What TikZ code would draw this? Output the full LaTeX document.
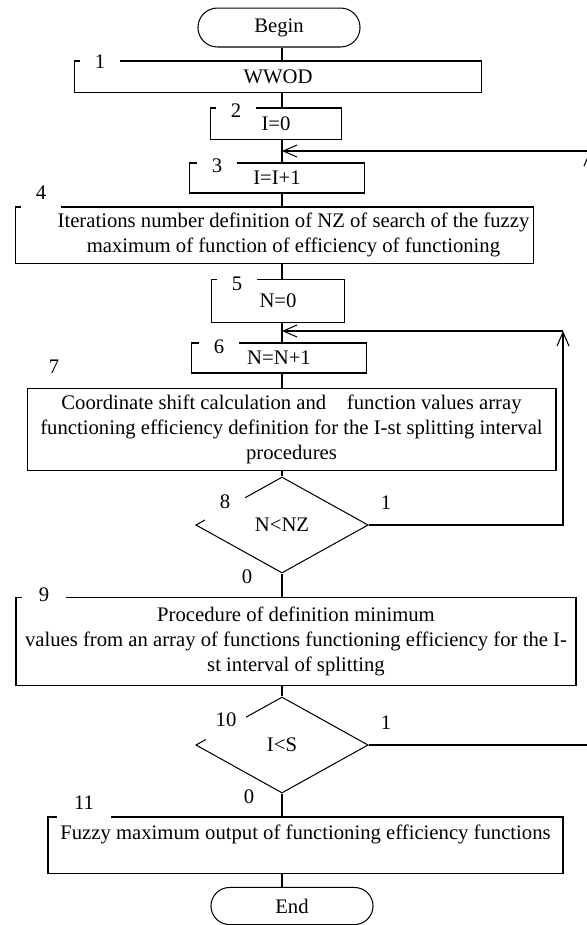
\documentclass[tikz,border=0pt,12pt]{standalone}
\usepackage{fontspec}
\setmainfont{Liberation Serif}
\usetikzlibrary{arrows.meta,shapes.geometric,shapes.misc}

\begin{document}
\begin{tikzpicture}[x=0.58pt,y=-0.58pt,semithick,
                    >={Straight Barb[length=8pt,width=7pt]},
  box/.style={draw,rectangle,inner sep=2pt,align=center},
  term/.style={draw,rounded rectangle,minimum width=102pt},
  cond/.style={draw,diamond,inner sep=0pt,minimum width=100pt,minimum height=55.7pt},
  num/.style={fill=white,inner sep=0pt,minimum width=23pt,minimum height=12pt},
  numtop/.style={fill=white,inner sep=0pt,minimum width=23pt,minimum height=23pt},
  txt/.style={align=center}]

  \path[use as bounding box,fill=white] (0,0) rectangle (587,925);
  \coordinate (axis) at (282,0);

  % terminals
  \node[term,minimum height=22.6pt] (beg) at (279,27.5) {Begin};
  \node[term,minimum height=21.5pt] (end) at (292,906) {End};

  % blocks
  \node[box,minimum width=236.6pt,minimum height=18pt]   (b1) at (278,76.5) {WWOD};
  \node[box,minimum width=76pt,minimum height=18pt]      (b2) at (276,123.5) {I=0};
  \node[box,minimum width=101.5pt,minimum height=17.4pt] (b3) at (277,178) {I=I+1};
  \node[box,minimum width=299.9pt,minimum height=32.5pt,
        label={[txt,xshift=11pt]center:{Iterations number definition of NZ of search of the fuzzy\\
               maximum of function of efficiency of functioning}}] (b4) at (274.5,235) {};
  \node[box,minimum width=76.6pt,minimum height=24.4pt]  (b5) at (278,301) {N=0};
  \node[box,minimum width=101.5pt,minimum height=17.4pt] (b6) at (279,358) {N=N+1};
  \node[box,minimum width=306.8pt,minimum height=48.1pt] (b7) at (291.5,429.5)
       {Coordinate shift calculation and~~~ function values array\\
        functioning efficiency definition for the I-st splitting interval\\
        procedures};
  \node[cond] (d8) at (282,525) {N<NZ};
  \node[box,minimum width=324.8pt,minimum height=50.5pt] (b9) at (296,641.5)
       {Procedure of definition minimum\\
        values from an array of functions functioning efficiency for the I-\\
        st interval of splitting};
  \node[cond] (d10) at (282,745) {I<S};
  \node[box,minimum width=298.7pt,minimum height=32.5pt] (b11) at (305.5,845)
       {Fuzzy maximum output of functioning efficiency functions\\ \mbox{}};

  % flow
  \draw (beg.south -| axis) -- (b1.north -| axis);
  \draw (b1.south -| axis) -- (b2.north -| axis);
  \draw (b2.south -| axis) -- (b3.north -| axis);
  \draw (b3.south -| axis) -- (b4.north -| axis);
  \draw (b4.south -| axis) -- (b5.north -| axis);
  \draw (b5.south -| axis) -- (b6.north -| axis);
  \draw (b6.south -| axis) -- (b7.north -| axis);
  \draw (b7.south -| axis) -- (d8.north);
  \draw (d8.south) -- (b9.north -| axis);
  \draw (b9.south -| axis) -- (d10.north);
  \draw (d10.south) -- (b11.north -| axis);
  \draw (b11.south -| axis) -- (end.north -| axis);

  % loops
  \coordinate (c8) at (563,331);
  \coordinate (c10) at (590,151);
  \draw[->] (d8.east) -| (c8);
  \draw[->] (c8) -- (c8 -| axis);
  \draw[->] (d10.east) -| (c10);
  \draw[->] (c10) -- (c10 -| axis);

  % branch labels
  \node (one8)   at (386,503) {1};
  \node (zero8)  at (247,577) {0};
  \node (one10)  at (386,723) {1};
  \node (zero10) at (249,797) {0};

  % block numbers
  \node[num]    (n1)  at (100,62)  {1};
  \node[num]    (n2)  at (236,111) {2};
  \node[num]    (n3)  at (217,166) {3};
  \node[numtop] (n4)  at (41,193)  {4};
  \node[num]    (n5)  at (237,284) {5};
  \node[num]    (n6)  at (219,347) {6};
  \node[numtop] (n7)  at (54,367)  {7};
  \node[numtop] (n8)  at (225,502) {8};
  \node[num,minimum width=25.5pt] (n9) at (44,595) {9};
  \node[numtop] (n10) at (226,720) {10};
  \node[numtop,minimum width=31pt] (n11) at (84,803) {11};
\end{tikzpicture}
\end{document}
